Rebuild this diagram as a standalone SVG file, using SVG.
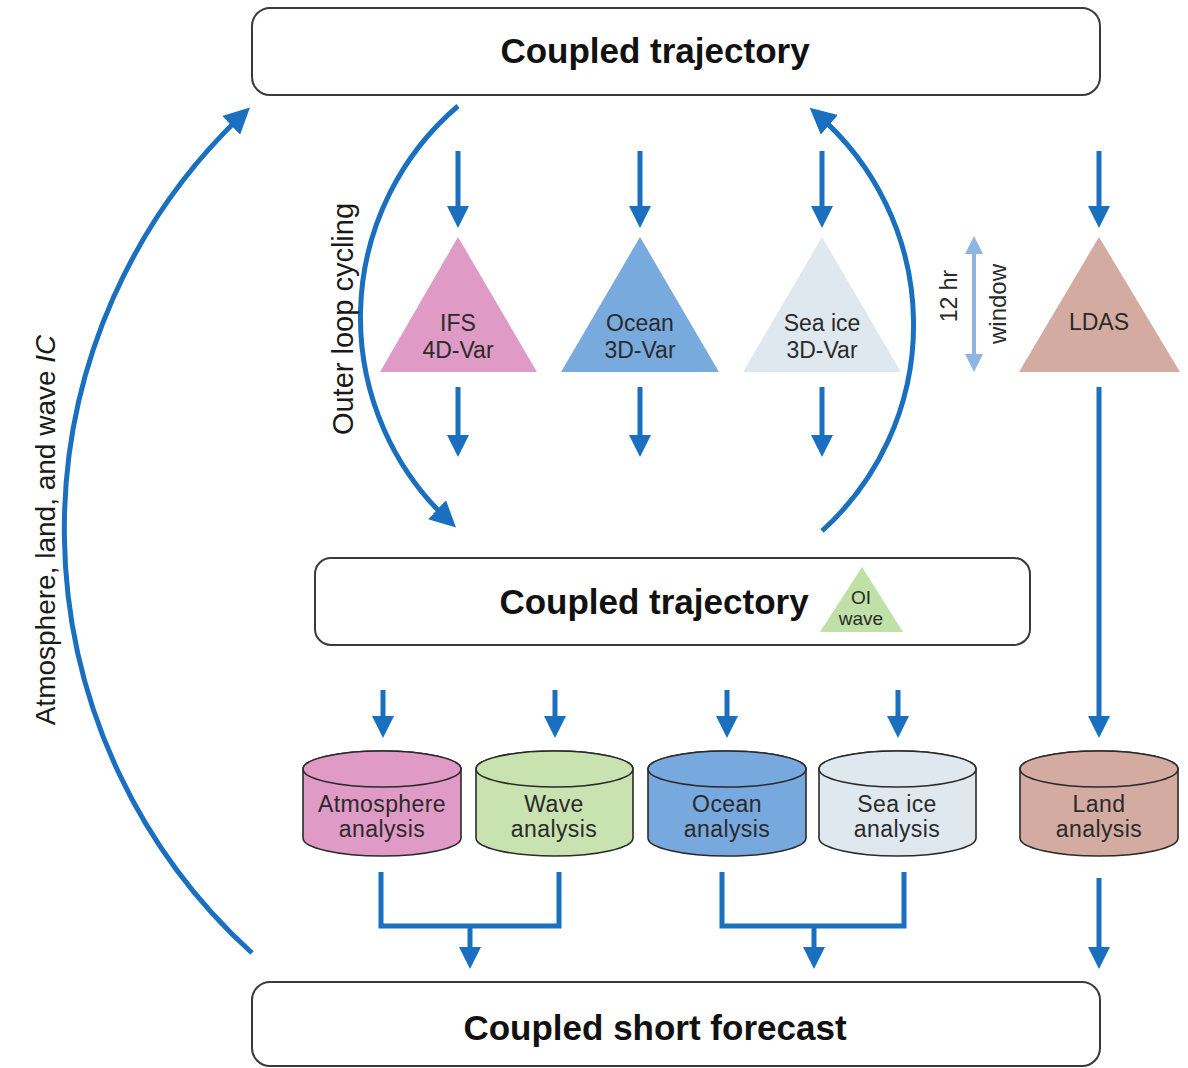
<svg xmlns="http://www.w3.org/2000/svg" width="1188" height="1068" viewBox="0 0 1188 1068">
<style>
.box{fill:#fff;stroke:#3a3a3a;stroke-width:2}
.title{font-family:"Liberation Sans",Arial,sans-serif;font-weight:bold;font-size:35px;fill:#111;text-anchor:middle}
.lbl{font-family:"Liberation Sans",Arial,sans-serif;font-size:23px;fill:#2a2a2a;text-anchor:middle}
.clbl{font-family:"Liberation Sans",Arial,sans-serif;font-size:23px;letter-spacing:0.4px;fill:#2a2a2a;text-anchor:middle}
.side{font-family:"Liberation Sans",Arial,sans-serif;font-size:28px;fill:#1a1a1a;text-anchor:middle}
.cyl{stroke:#2a2a2a;stroke-width:1.6}
.conn{fill:none;stroke:#1a6fbf;stroke-width:5}
.win{fill:none;stroke:#8fb5e3;stroke-width:4}
</style>
<defs>
<marker id="ah" markerUnits="userSpaceOnUse" markerWidth="22" markerHeight="22" viewBox="0 0 22 22" refX="13" refY="11" orient="auto">
<path d="M0,0 L22,11 L0,22 z" fill="#1a6fbf"/>
</marker>
<marker id="ahb" markerUnits="userSpaceOnUse" markerWidth="26" markerHeight="26" viewBox="0 0 26 26" refX="15" refY="13" orient="auto">
<path d="M0,0 L26,13 L0,26 z" fill="#1a6fbf"/>
</marker>
<marker id="wh" markerUnits="userSpaceOnUse" markerWidth="18" markerHeight="18" viewBox="0 0 18 18" refX="8" refY="9" orient="auto-start-reverse">
<path d="M0,0 L18,9 L0,18 z" fill="#8fb5e3"/>
</marker>
</defs>
<rect width="1188" height="1068" fill="#fff"/>

<g id="connectors">
<!-- left big arc -->
<path class="conn" d="M252,953 A572,572 0 0 1 242,115" marker-end="url(#ahb)"/>
<!-- outer loop arcs -->
<path class="conn" d="M458,106 A278,278 0 0 0 448,520" marker-end="url(#ahb)"/>
<path class="conn" d="M822,531 A278,278 0 0 0 818,115" marker-end="url(#ahb)"/>
<!-- arrows into triangles -->
<line class="conn" x1="458" y1="151" x2="458" y2="219" marker-end="url(#ah)"/>
<line class="conn" x1="640" y1="151" x2="640" y2="219" marker-end="url(#ah)"/>
<line class="conn" x1="822" y1="151" x2="822" y2="219" marker-end="url(#ah)"/>
<line class="conn" x1="1099" y1="151" x2="1099" y2="219" marker-end="url(#ah)"/>
<!-- arrows out of triangles -->
<line class="conn" x1="458" y1="387" x2="458" y2="448" marker-end="url(#ah)"/>
<line class="conn" x1="640" y1="387" x2="640" y2="448" marker-end="url(#ah)"/>
<line class="conn" x1="822" y1="387" x2="822" y2="448" marker-end="url(#ah)"/>
<line class="conn" x1="1099" y1="387" x2="1099" y2="729" marker-end="url(#ah)"/>
<!-- arrows into cylinders -->
<line class="conn" x1="383" y1="690" x2="383" y2="729" marker-end="url(#ah)"/>
<line class="conn" x1="555" y1="690" x2="555" y2="729" marker-end="url(#ah)"/>
<line class="conn" x1="727" y1="690" x2="727" y2="729" marker-end="url(#ah)"/>
<line class="conn" x1="898" y1="690" x2="898" y2="729" marker-end="url(#ah)"/>
<!-- merges -->
<polyline class="conn" points="381,872 381,926 559,926 559,872"/>
<line class="conn" x1="470" y1="926" x2="470" y2="960" marker-end="url(#ah)"/>
<polyline class="conn" points="722,872 722,926 904,926 904,872"/>
<line class="conn" x1="814" y1="926" x2="814" y2="960" marker-end="url(#ah)"/>
<line class="conn" x1="1099" y1="878" x2="1099" y2="960" marker-end="url(#ah)"/>
<!-- 12 hr window -->
<line class="win" x1="974" y1="246" x2="974" y2="362" marker-start="url(#wh)" marker-end="url(#wh)"/>
</g>

<g id="top-trajectory">
<rect class="box" x="252" y="8" width="848" height="87" rx="18"/>
<text class="title" x="655" y="63">Coupled trajectory</text>
</g>

<g id="ifs">
<polygon points="458,237 537,372 380,372" fill="#e09ac6"/>
<text class="lbl" x="458" y="331">IFS</text>
<text class="lbl" x="458" y="358">4D-Var</text>
</g>
<g id="ocean-var">
<polygon points="640,237 719,372 561,372" fill="#79aade"/>
<text class="lbl" x="640" y="331">Ocean</text>
<text class="lbl" x="640" y="358">3D-Var</text>
</g>
<g id="seaice-var">
<polygon points="822,237 901,372 743,372" fill="#dfe8ef"/>
<text class="lbl" x="822" y="331">Sea ice</text>
<text class="lbl" x="822" y="358">3D-Var</text>
</g>
<g id="ldas">
<polygon points="1099,237 1180,372 1019,372" fill="#d4aba0"/>
<text class="lbl" x="1099" y="330">LDAS</text>
</g>

<g id="labels">
<text class="lbl" transform="translate(957,296) rotate(-90)">12 hr</text>
<text class="lbl" transform="translate(1006,304) rotate(-90)" style="font-size:24px">window</text>
<text class="side" transform="translate(353,319) rotate(-90)" style="font-size:29px">Outer loop cycling</text>
<text class="side" transform="translate(55,530) rotate(-90)">Atmosphere, land, and wave <tspan font-style="italic">IC</tspan></text>
</g>

<g id="mid-trajectory">
<rect class="box" x="315" y="558" width="715" height="87" rx="16"/>
<text class="title" x="654" y="614">Coupled trajectory</text>
<polygon points="862,567 903,632 820,632" fill="#bfe0a6"/>
<text class="lbl" x="861" y="604" style="font-size:19px">OI</text>
<text class="lbl" x="861" y="625" style="font-size:19px">wave</text>
</g>

<g id="atm-analysis">
<path class="cyl" fill="#e09ac6" d="M303,769 L303,838 A79,18 0 0 0 461,838 L461,769 A79,18 0 0 0 303,769 Z"/>
<ellipse class="cyl" cx="382" cy="769" rx="79" ry="18" fill="#e09ac6"/>
<text class="clbl" x="382" y="812">Atmosphere</text>
<text class="clbl" x="382" y="837">analysis</text>
</g>
<g id="wave-analysis">
<path class="cyl" fill="#c8e3b0" d="M476,769 L476,838 A78.5,18 0 0 0 633,838 L633,769 A78.5,18 0 0 0 476,769 Z"/>
<ellipse class="cyl" cx="554.5" cy="769" rx="78.5" ry="18" fill="#c8e3b0"/>
<text class="clbl" x="554" y="812">Wave</text>
<text class="clbl" x="554" y="837">analysis</text>
</g>
<g id="ocean-analysis">
<path class="cyl" fill="#77a9de" d="M648,769 L648,838 A79,18 0 0 0 806,838 L806,769 A79,18 0 0 0 648,769 Z"/>
<ellipse class="cyl" cx="727" cy="769" rx="79" ry="18" fill="#77a9de"/>
<text class="clbl" x="727" y="812">Ocean</text>
<text class="clbl" x="727" y="837">analysis</text>
</g>
<g id="seaice-analysis">
<path class="cyl" fill="#dfe8ef" d="M819,769 L819,838 A78.5,18 0 0 0 976,838 L976,769 A78.5,18 0 0 0 819,769 Z"/>
<ellipse class="cyl" cx="897.5" cy="769" rx="78.5" ry="18" fill="#dfe8ef"/>
<text class="clbl" x="897" y="812">Sea ice</text>
<text class="clbl" x="897" y="837">analysis</text>
</g>
<g id="land-analysis">
<path class="cyl" fill="#d4aba0" d="M1020,769 L1020,838 A79,18 0 0 0 1178,838 L1178,769 A79,18 0 0 0 1020,769 Z"/>
<ellipse class="cyl" cx="1099" cy="769" rx="79" ry="18" fill="#d4aba0"/>
<text class="clbl" x="1099" y="812">Land</text>
<text class="clbl" x="1099" y="837">analysis</text>
</g>

<g id="short-forecast">
<rect class="box" x="252" y="982" width="848" height="84" rx="18"/>
<text class="title" x="655" y="1040">Coupled short forecast</text>
</g>
</svg>
